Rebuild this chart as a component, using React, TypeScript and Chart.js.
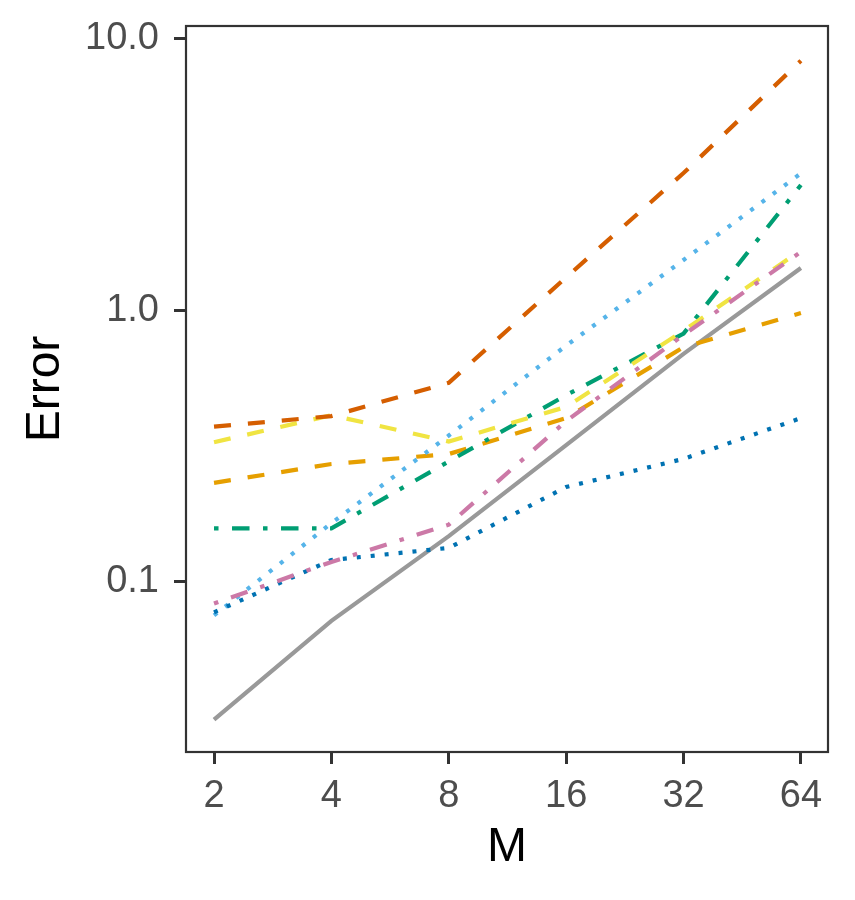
import React, { useEffect, useRef } from 'react';
import { Chart, registerables } from 'chart.js';

Chart.register(...registerables);

// M values on the x axis (log2 spaced)
const mValues = [2, 4, 8, 16, 32, 64];
const yTickValues = [0.1, 1, 10];
const yTickLabels = ['0.1', '1.0', '10.0'];

// error series, one per method
const greySolid = [0.031, 0.0716, 0.147, 0.318, 0.69, 1.43];
const orangeDashed = [0.231, 0.271, 0.295, 0.40, 0.73, 0.975];
const skyDotted = [0.075, 0.164, 0.345, 0.74, 1.53, 3.19];
const greenDotDash = [0.157, 0.157, 0.277, 0.486, 0.82, 2.89];
const yellowDashed = [0.326, 0.41, 0.328, 0.44, 0.84, 1.66];
const blueDotted = [0.077, 0.12, 0.133, 0.223, 0.283, 0.40];
const vermDashed = [0.372, 0.407, 0.54, 1.32, 3.2, 8.3];
const pinkDotDash = [0.083, 0.118, 0.162, 0.39, 0.81, 1.64];

const DASHED = [17, 17];
const DOTTED = [4, 10];
const DOTDASH = [4.5, 13.5, 17.5, 13.5];

const FONT = '"Liberation Sans", Arial, Helvetica, sans-serif';

const toPoints = (vals: number[]) => vals.map((v, i) => ({ x: mValues[i], y: v }));

// panel border drawn on top, like ggplot's theme_bw
const panelBorder = {
    id: 'panelBorder',
    afterDatasetsDraw(chart: any) {
        const { ctx, chartArea } = chart;
        ctx.save();
        ctx.strokeStyle = '#333333';
        ctx.lineWidth = 2.2;
        ctx.strokeRect(chartArea.left, chartArea.top, chartArea.right - chartArea.left, chartArea.bottom - chartArea.top);
        ctx.restore();
    }
};

const App: React.FC = () => {
    const chartRef = useRef<HTMLCanvasElement>(null);
    const chartInstance = useRef<Chart | null>(null);

    useEffect(() => {
        if (!chartRef.current) return;
        if (chartInstance.current) chartInstance.current.destroy();

        const line = (data: number[], color: string, dash: number[]) => ({
            data: toPoints(data),
            borderColor: color,
            backgroundColor: color,
            borderWidth: 4.2,
            borderDash: dash,
            borderCapStyle: 'butt' as const,
            pointRadius: 0,
            tension: 0,
            fill: false,
        });

        chartInstance.current = new Chart(chartRef.current, {
            type: 'line',
            data: {
                datasets: [
                    line(pinkDotDash, '#CC79A7', DOTDASH),
                    line(vermDashed, '#D55E00', DASHED),
                    line(blueDotted, '#0072B2', DOTTED),
                    line(yellowDashed, '#F0E442', DASHED),
                    line(greenDotDash, '#009E73', DOTDASH),
                    line(skyDotted, '#56B4E9', DOTTED),
                    line(orangeDashed, '#E69F00', DASHED),
                    line(greySolid, '#999999', []),
                ] as any
            },
            options: {
                responsive: false,
                devicePixelRatio: 1,
                animation: false,
                layout: { padding: { top: 26, right: 27, left: 0, bottom: 0 } },
                plugins: {
                    legend: { display: false },
                    tooltip: { enabled: false }
                },
                scales: {
                    x: {
                        type: 'logarithmic',
                        min: 1.695,
                        max: 75.1,
                        border: { display: false },
                        grid: { drawOnChartArea: false, drawTicks: true, tickLength: 12, tickColor: '#333333', tickWidth: 3 },
                        ticks: {
                            color: '#4D4D4D',
                            font: { family: FONT, size: 38 },
                            padding: 10,
                            maxRotation: 0,
                            autoSkip: false,
                            callback: (v: any) => String(v)
                        },
                        afterBuildTicks: (scale: any) => {
                            scale.ticks = mValues.map(v => ({ value: v }));
                        },
                        afterFit: (scale: any) => {
                            scale.height = 148;
                            scale.paddingLeft = 0;
                            scale.paddingRight = 0;
                        },
                        title: {
                            display: true,
                            text: 'M',
                            color: '#000000',
                            font: { family: FONT, size: 48 },
                            padding: { top: 0, bottom: 23 }
                        }
                    },
                    y: {
                        type: 'logarithmic',
                        min: 0.02354,
                        max: 11.14,
                        border: { display: false },
                        grid: { drawOnChartArea: false, drawTicks: true, tickLength: 12, tickColor: '#333333', tickWidth: 3 },
                        ticks: {
                            color: '#4D4D4D',
                            font: { family: FONT, size: 38 },
                            padding: 15,
                            autoSkip: false,
                            callback: (v: any) => {
                                const i = yTickValues.indexOf(Number(v));
                                return i >= 0 ? yTickLabels[i] : '';
                            }
                        },
                        afterBuildTicks: (scale: any) => {
                            scale.ticks = yTickValues.map(v => ({ value: v }));
                        },
                        afterFit: (scale: any) => {
                            scale.width = 186;
                            scale.paddingTop = 0;
                            scale.paddingBottom = 0;
                        },
                        title: {
                            display: true,
                            text: 'Error',
                            color: '#000000',
                            font: { family: FONT, size: 48 },
                            padding: { top: 17, bottom: 0 }
                        }
                    }
                }
            },
            plugins: [panelBorder]
        });

        return () => {
            if (chartInstance.current) {
                chartInstance.current.destroy();
                chartInstance.current = null;
            }
        };
    }, []);

    return (
        <div style={{ position: 'fixed', left: 0, top: 0, width: 855, height: 900, background: '#ffffff' }}>
            <canvas ref={chartRef} width={855} height={900} style={{ width: 855, height: 900 }} />
        </div>
    );
};

export default App;
